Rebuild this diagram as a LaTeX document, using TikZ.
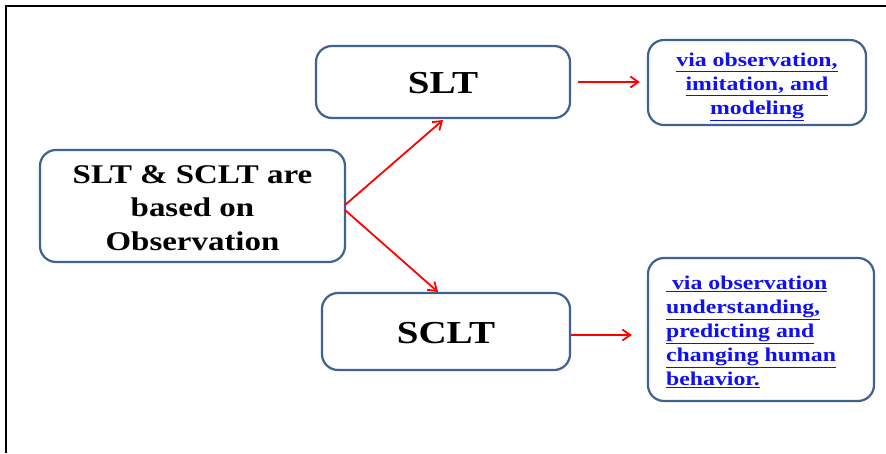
\documentclass[tikz,border=0pt]{standalone}
\usepackage{fontspec}
\setmainfont{Liberation Serif}
\usetikzlibrary{arrows.meta}
\definecolor{boxline}{HTML}{3F6290}
\definecolor{linkblue}{HTML}{1010F0}
\newcommand{\ul}[1]{\underline{#1}}
% text set a little wider than its natural shape
\newcommand{\wide}[2]{\scalebox{1.22}[1]{\begin{tabular}{@{}#1@{}}#2\end{tabular}}}
\begin{document}
\begin{tikzpicture}[x=1pt,y=-1pt,
  box/.style={draw=boxline, line width=2.2pt, rounded corners=16pt, fill=white},
  maintext/.style={font=\bfseries\fontsize{27}{33.5}\selectfont, inner sep=0pt},
  titletext/.style={font=\bfseries\fontsize{32}{36}\selectfont, inner sep=0pt},
  linktext/.style={font=\bfseries\fontsize{19.5}{24}\selectfont, text=linkblue, inner sep=0pt},
  arr/.style={draw=red, line width=1.8pt, -{Straight Barb[length=8pt,width=11pt]}}]
  \useasboundingbox (0,0) rectangle (886,453);
  % page frame (top and left edges)
  \draw[line width=1.6pt] (6,453) -- (6,6) -- (886,6);
  % boxes
  \node[box, minimum width=305pt, minimum height=112pt] (base) at (192.5,206) {};
  \node[maintext] (basetxt) at ([yshift=-4pt]base.center) {\wide{c}{SLT \& SCLT are\\based on\\Observation}};
  \node[box, minimum width=254pt, minimum height=72pt] (slt) at (443,82) {};
  \node[titletext] (slttxt) at ([yshift=-4.5pt]slt.center) {\wide{c}{SLT}};
  \node[box, minimum width=248pt, minimum height=77pt] (sclt) at (446,331.5) {};
  \node[titletext] (sclttxt) at ([yshift=-4.5pt]sclt.center) {\wide{c}{SCLT}};
  \node[box, minimum width=218pt, minimum height=85pt] (out1) at (757,82.5) {};
  \node[linktext] (out1txt) at ([yshift=-3pt]out1.center) {\wide{c}{\ul{via observation,}\\\ul{imitation, and}\\\ul{modeling}}};
  \node[box, minimum width=226pt, minimum height=143pt] (out2) at (761,329.5) {};
  \node[linktext, anchor=west] (out2txt) at ([xshift=19pt,yshift=-3.5pt]out2.west) {\wide{l}{\ul{\ via observation}\\\ul{understanding,}\\\ul{predicting and}\\\ul{changing human}\\\ul{behavior.}}};
  % connectors
  \coordinate (fork1) at (345,205);
  \coordinate (fork2) at (345,210);
  \draw[arr] (fork1) -- (443,120);
  \draw[arr] (fork2) -- (438,292);
  \draw[arr] ([xshift=7pt]slt.east) -- ([xshift=-7pt]slt.east -| out1.west);
  \draw[arr] ([yshift=-3.5pt]sclt.east) -- ([xshift=-15pt,yshift=-3.5pt]sclt.east -| out2.west);
\end{tikzpicture}
\end{document}
